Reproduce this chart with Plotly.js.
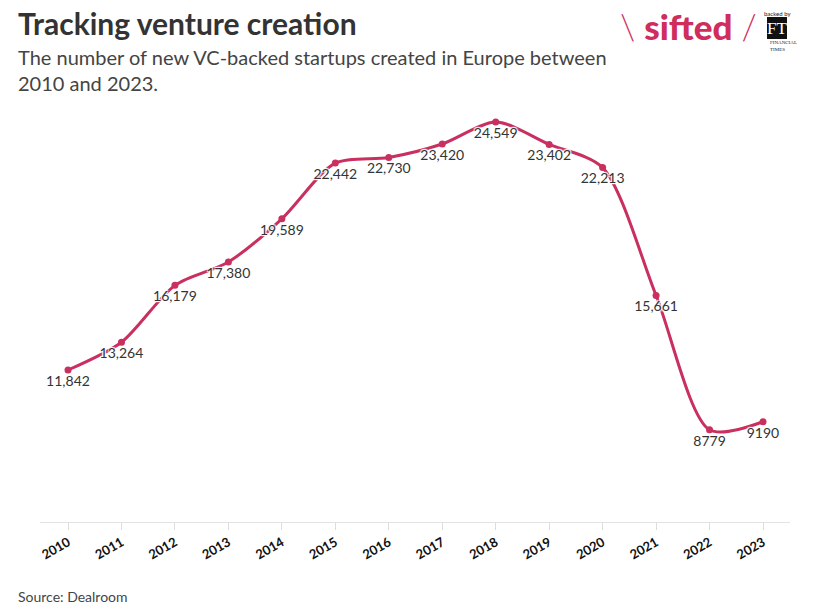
<!DOCTYPE html>
<html>
<head>
<meta charset="utf-8">
<script src="https://cdn.plot.ly/plotly-3.0.1.min.js"></script>
<style>
html,body{margin:0;padding:0;background:#fff;}
#chart{width:815px;height:614px;}
</style>
</head>
<body>
<div id="chart"></div>
<script>
const years = [2010, 2011, 2012, 2013, 2014, 2015, 2016, 2017, 2018, 2019, 2020, 2021, 2022, 2023];
const startups = [11842, 13264, 16179, 17380, 19589, 22442, 22730, 23420, 24549, 23402, 22213, 15661, 8779, 9190];
const tickLabels = years.map(String);

const FONT = "Lato, 'Source Sans Pro', 'Noto Sans', sans-serif";
const PINK = "#c9305f";

const labels = startups.map(v => v >= 10000 ? v.toLocaleString('en-US') : String(v));

const trace = {
  x: years,
  y: startups,
  type: 'scatter',
  mode: 'lines+markers+text',
  line: {color: PINK, width: 3, shape: 'spline', smoothing: 0.8},
  marker: {color: PINK, size: 7},
  text: labels,
  textposition: 'bottom center',
  textfont: {family: FONT, size: 14, color: '#333', shadow: 'auto'},
  hoverinfo: 'x+y',
  cliponaxis: false
};

const X0 = -0.032;
// paper coords helpers for the header (plot area: x 40..790, y 105..522)
const px = v => (v - 40) / 750;
const py = v => 1 + (105 - v) / 417;

const layout = {
  width: 815,
  height: 614,
  margin: {l: 40, r: 25, t: 105, b: 92},
  paper_bgcolor: '#fff',
  plot_bgcolor: '#fff',
  showlegend: false,
  font: {family: FONT, color: '#333'},
  xaxis: {
    range: [2009.476, 2023.505],
    tickvals: years,
    ticktext: tickLabels,
    tickangle: -30,
    tickfont: {family: FONT, size: 13, color: '#111', weight: 'bold'},
    ticks: 'outside',
    ticklen: 7,
    tickcolor: '#ddd',
    tickwidth: 1,
    showline: true,
    linecolor: '#e3e3e3',
    linewidth: 1,
    showgrid: false,
    zeroline: false,
    fixedrange: true
  },
  yaxis: {
    range: [4054, 25420],
    visible: false,
    showgrid: false,
    zeroline: false,
    fixedrange: true
  },
  annotations: [
    {xref: 'paper', yref: 'paper', x: X0, y: 1.0, xanchor: 'left', yanchor: 'top', showarrow: false,
     text: '<b>Tracking venture creation</b>', align: 'left',
     font: {family: FONT, size: 30, color: '#333'}, yshift: 105 - 3},
    {xref: 'paper', yref: 'paper', x: X0, y: 1.0, xanchor: 'left', yanchor: 'top', showarrow: false,
     text: 'The number of new VC-backed startups created in Europe between<br>2010 and 2023.', align: 'left',
     font: {family: FONT, size: 20, color: '#444'}, yshift: 105 - 43},
    {xref: 'paper', yref: 'paper', x: X0, y: 0, xanchor: 'left', yanchor: 'top', showarrow: false,
     text: 'Source: Dealroom', align: 'left',
     font: {family: FONT, size: 14, color: '#444'}, yshift: -64},
    {xref: 'paper', yref: 'paper', x: 0.77, y: 1.0, xanchor: 'left', yanchor: 'top', showarrow: false,
     text: '<span style="font-weight:300">\\</span> <span style="font-weight:900">sifted</span> <span style="font-weight:300">/</span>', align: 'left',
     font: {family: FONT, size: 35, color: '#d02d5e'}, yshift: 105 - 3},
    {xref: 'paper', yref: 'paper', x: px(777), y: py(8), xanchor: 'center', yanchor: 'top', showarrow: false,
     text: 'backed by', font: {family: FONT, size: 6, color: '#222'}},
    {xref: 'paper', yref: 'paper', x: px(777), y: py(28), xanchor: 'center', yanchor: 'middle', showarrow: false,
     text: 'FT', font: {family: "'Liberation Serif', serif", size: 17, color: '#fff'}},
    {xref: 'paper', yref: 'paper', x: px(768), y: py(38), xanchor: 'left', yanchor: 'top', showarrow: false, align: 'left',
     text: 'FINANCIAL<br>TIMES', font: {family: "'Liberation Serif', serif", size: 5, color: '#222'}}
  ],
  shapes: [
    {type: 'rect', xref: 'paper', yref: 'paper', x0: px(767), x1: px(787), y0: py(17), y1: py(39),
     fillcolor: '#111', line: {width: 0}}
  ]
};

Plotly.newPlot('chart', [trace], layout, {displayModeBar: false, staticPlot: true});
</script>
</body>
</html>
